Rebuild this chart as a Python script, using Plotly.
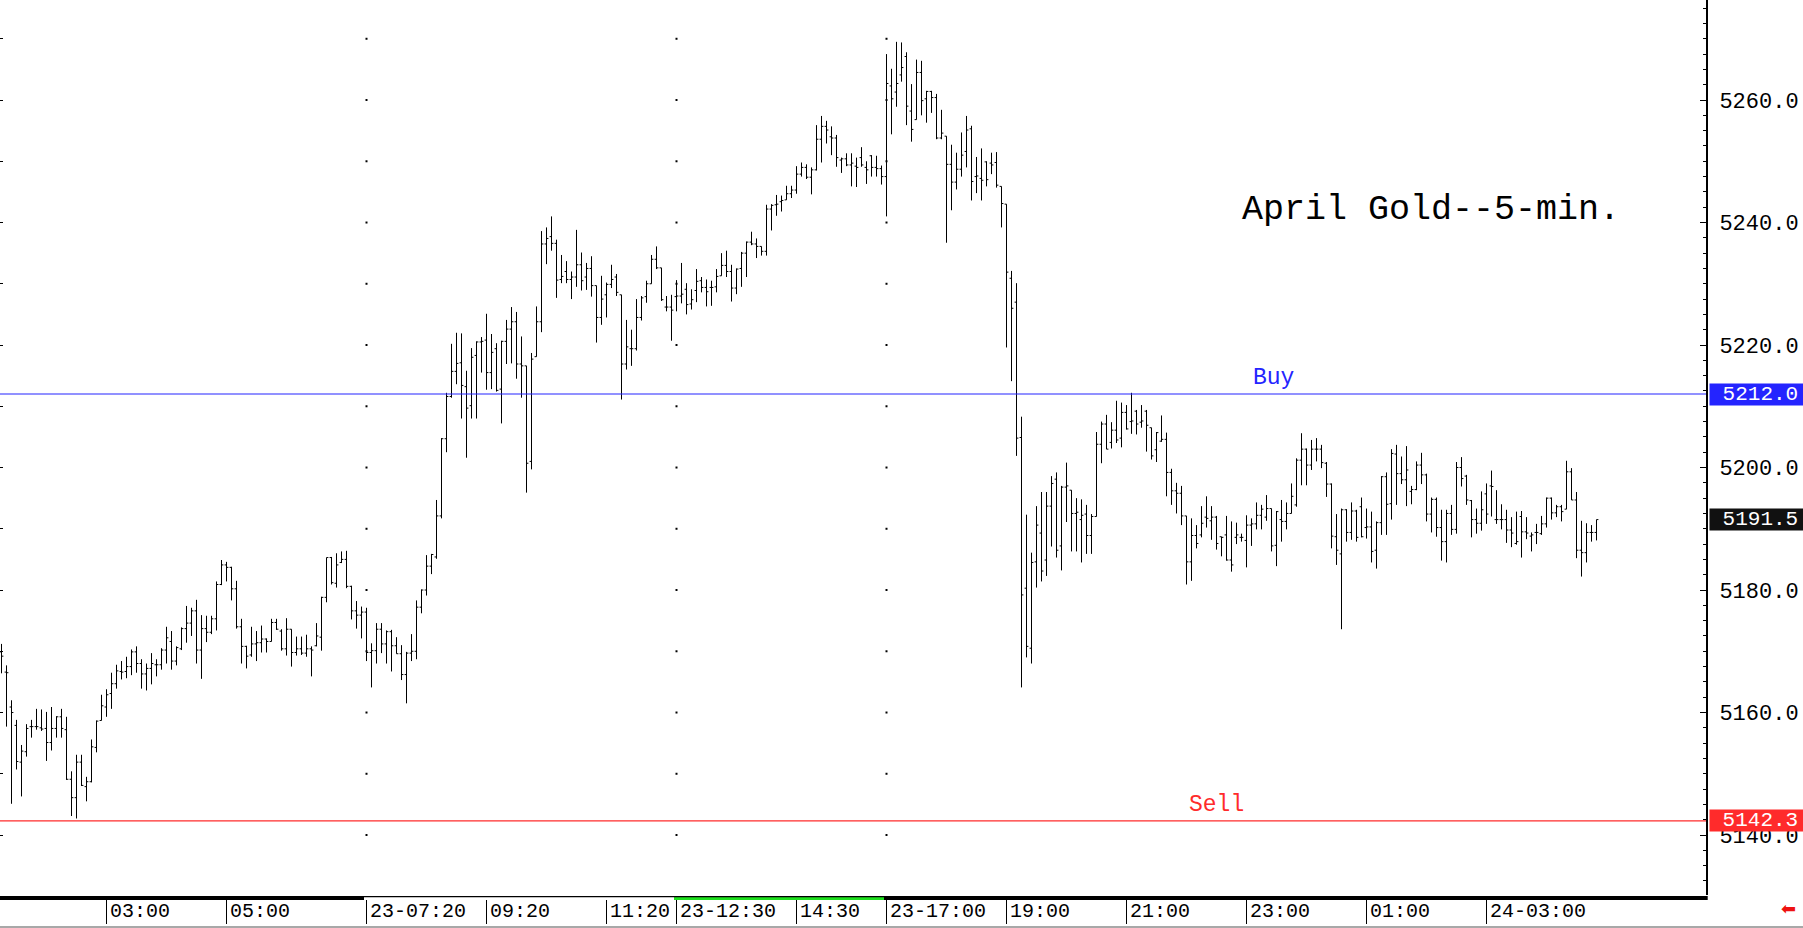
import plotly.graph_objects as go

# April gold, 5-minute bars
opens = [
    5169.9, 5166.6, 5160.9, 5157.9, 5151.9, 5153.6, 5157.7, 5157.7, 5157.5, 5157.4,
    5155.1, 5157.4, 5159.3, 5157.2, 5149.1, 5146.1, 5151.9, 5147.9, 5148.7, 5154.3,
    5158.7, 5160.9, 5163.1, 5164.7, 5166.7, 5166.7, 5167.5, 5169.9, 5168.0, 5166.3,
    5167.2, 5167.8, 5167.8, 5170.2, 5171.6, 5168.4, 5170.4, 5173.7, 5174.6, 5176.6,
    5170.2, 5173.7, 5173.1, 5175.3, 5180.9, 5184.1, 5183.7, 5180.2, 5174.0, 5170.8,
    5169.4, 5171.2, 5171.4, 5172.0, 5171.6, 5174.7, 5173.3, 5170.4, 5173.6, 5169.8,
    5170.4, 5169.7, 5170.4, 5170.9, 5172.3, 5178.8, 5185.3, 5181.1, 5184.5, 5185.0,
    5180.6, 5176.6, 5175.9, 5176.4, 5169.8, 5170.1, 5173.6, 5171.2, 5173.2, 5170.9,
    5169.6, 5166.2, 5169.7, 5170.0, 5177.2, 5180.0, 5183.9, 5185.4, 5192.1, 5204.7,
    5211.6, 5215.7, 5217.1, 5213.2, 5210.1, 5218.3, 5220.5, 5220.8, 5215.5, 5219.4,
    5212.8, 5220.6, 5222.6, 5223.8, 5216.9, 5216.6, 5201.0, 5218.1, 5223.8, 5236.5,
    5237.7, 5236.6, 5230.7, 5232.0, 5230.7, 5231.1, 5233.1, 5231.1, 5232.5, 5229.7,
    5224.5, 5228.2, 5229.9, 5231.1, 5228.2, 5216.9, 5219.4, 5219.4, 5224.5, 5227.9,
    5230.0, 5234.0, 5232.6, 5226.2, 5226.2, 5227.9, 5228.0, 5229.1, 5226.7, 5228.9,
    5230.5, 5229.4, 5229.4, 5229.5, 5231.3, 5233.0, 5232.0, 5229.3, 5232.5, 5235.0,
    5236.8, 5236.5, 5236.1, 5235.3, 5242.2, 5242.9, 5243.4, 5243.7, 5244.7, 5245.3,
    5247.9, 5249.0, 5247.4, 5248.6, 5253.6, 5255.7, 5254.0, 5253.8, 5250.2, 5250.4,
    5249.4, 5249.2, 5250.6, 5249.0, 5250.9, 5249.0, 5248.8, 5247.5, 5262.3, 5261.3,
    5264.1, 5267.1, 5258.2, 5256.8, 5264.5, 5260.2, 5261.4, 5260.4, 5253.8, 5254.1,
    5249.5, 5246.6, 5248.7, 5251.6, 5255.3, 5247.5, 5247.2, 5249.9, 5249.7, 5249.8,
    5245.9, 5243.0, 5230.9, 5227.0, 5204.9, 5180.3, 5170.5, 5184.6, 5189.3, 5184.9,
    5193.7, 5198.1, 5187.2, 5196.8, 5196.3, 5192.5, 5191.5, 5192.4, 5188.9, 5192.0,
    5203.8, 5207.1, 5204.1, 5206.1, 5204.8, 5209.0, 5207.5, 5209.2, 5207.4, 5209.2,
    5206.5, 5202.9, 5204.3, 5204.6, 5199.2, 5196.2, 5195.8, 5192.1, 5184.6, 5188.9,
    5189.0, 5191.9, 5191.3, 5191.9, 5188.7, 5189.0, 5184.9, 5188.6, 5188.6, 5188.1,
    5190.6, 5190.8, 5192.2, 5191.9, 5193.3, 5187.3, 5191.5, 5191.2, 5192.5, 5193.9,
    5201.2, 5203.0, 5200.4, 5203.0, 5203.0, 5200.7, 5197.3, 5188.7, 5185.9, 5193.1,
    5189.4, 5192.9, 5193.6, 5190.2, 5190.3, 5186.5, 5191.0, 5198.5, 5194.1, 5202.2,
    5199.0, 5198.0, 5196.1, 5196.4, 5200.4, 5198.8, 5192.4, 5194.8, 5190.2, 5187.9,
    5192.5, 5189.9, 5200.0, 5198.6, 5194.6, 5191.5, 5190.9, 5195.7, 5197.0, 5191.5,
    5191.5, 5191.5, 5189.8, 5187.6, 5192.0, 5189.5, 5188.8, 5189.4, 5189.2, 5190.8,
    5195.0, 5192.6, 5193.6, 5193.2, 5199.3, 5194.7, 5186.5, 5186.1, 5189.4, 5189.4,
]
highs = [
    5171.2, 5167.7, 5162.0, 5158.8, 5154.7, 5158.1, 5158.8, 5160.6, 5160.5, 5160.1,
    5160.9, 5159.4, 5160.6, 5159.3, 5150.4, 5153.1, 5153.1, 5149.5, 5155.6, 5158.7,
    5162.9, 5163.8, 5166.5, 5167.8, 5168.4, 5169.1, 5170.3, 5170.8, 5168.7, 5168.0,
    5169.7, 5168.7, 5170.5, 5174.0, 5173.3, 5170.8, 5173.9, 5177.4, 5177.1, 5178.4,
    5175.9, 5175.8, 5175.8, 5181.4, 5184.9, 5184.6, 5183.8, 5181.5, 5175.3, 5170.9,
    5174.0, 5173.3, 5174.2, 5172.1, 5175.3, 5175.3, 5173.6, 5175.4, 5173.6, 5172.4,
    5172.4, 5172.7, 5170.8, 5174.6, 5178.9, 5185.3, 5185.4, 5186.0, 5186.3, 5186.4,
    5180.7, 5178.2, 5177.3, 5177.1, 5171.3, 5174.6, 5174.6, 5173.4, 5173.5, 5172.3,
    5171.0, 5169.9, 5172.8, 5178.3, 5180.1, 5185.7, 5185.9, 5194.7, 5204.8, 5212.2,
    5220.2, 5222.0, 5221.9, 5215.8, 5219.5, 5220.6, 5221.3, 5225.1, 5221.8, 5220.3,
    5220.7, 5224.1, 5226.2, 5225.4, 5221.4, 5216.6, 5218.7, 5226.3, 5238.6, 5239.2,
    5241.0, 5237.2, 5234.7, 5233.7, 5232.0, 5238.8, 5235.1, 5233.4, 5234.5, 5229.7,
    5231.3, 5230.2, 5233.1, 5231.6, 5228.2, 5224.1, 5222.5, 5227.5, 5228.0, 5230.5,
    5234.7, 5236.1, 5232.6, 5228.0, 5228.2, 5230.6, 5233.4, 5230.1, 5229.1, 5232.4,
    5231.1, 5230.7, 5230.5, 5232.4, 5235.0, 5235.4, 5233.1, 5232.5, 5235.2, 5236.9,
    5238.5, 5237.4, 5236.1, 5242.9, 5243.0, 5244.5, 5244.4, 5246.0, 5246.0, 5249.2,
    5249.8, 5249.5, 5249.0, 5255.9, 5257.4, 5256.6, 5255.7, 5254.3, 5250.6, 5251.3,
    5251.3, 5250.6, 5252.3, 5250.0, 5251.0, 5250.9, 5249.3, 5267.5, 5265.1, 5269.5,
    5269.4, 5267.8, 5262.6, 5266.6, 5266.4, 5261.5, 5261.5, 5261.0, 5258.4, 5254.1,
    5252.7, 5251.4, 5254.7, 5257.4, 5255.8, 5250.7, 5252.1, 5250.0, 5251.4, 5251.5,
    5245.9, 5243.0, 5232.1, 5230.1, 5208.3, 5192.3, 5186.1, 5193.7, 5196.0, 5196.0,
    5198.6, 5199.2, 5197.0, 5200.8, 5196.3, 5195.0, 5194.8, 5193.9, 5192.4, 5205.8,
    5207.5, 5208.6, 5207.4, 5210.9, 5210.6, 5210.2, 5212.2, 5209.4, 5210.2, 5209.4,
    5206.5, 5205.8, 5208.5, 5205.7, 5199.8, 5197.5, 5197.0, 5192.1, 5191.7, 5190.6,
    5193.7, 5195.3, 5193.7, 5192.1, 5188.7, 5192.1, 5191.2, 5191.0, 5189.2, 5192.2,
    5191.7, 5194.3, 5193.9, 5195.5, 5193.3, 5192.9, 5194.7, 5194.3, 5197.4, 5201.5,
    5205.6, 5203.1, 5204.5, 5204.8, 5203.7, 5200.9, 5197.4, 5192.4, 5193.3, 5193.2,
    5194.3, 5193.1, 5195.1, 5193.3, 5192.8, 5191.2, 5198.6, 5199.2, 5203.0, 5203.7,
    5201.8, 5203.5, 5197.0, 5201.0, 5202.4, 5199.0, 5195.1, 5195.1, 5193.1, 5193.1,
    5193.9, 5200.9, 5201.7, 5198.8, 5194.7, 5193.3, 5196.1, 5197.4, 5199.5, 5196.3,
    5194.0, 5193.1, 5191.9, 5192.8, 5192.9, 5191.9, 5189.4, 5190.8, 5192.1, 5195.1,
    5195.1, 5193.9, 5193.9, 5201.1, 5199.9, 5196.0, 5191.3, 5190.9, 5190.6, 5191.5,
]
lows = [
    5166.4, 5157.7, 5145.1, 5150.7, 5146.3, 5152.8, 5155.9, 5157.2, 5157.0, 5152.1,
    5153.8, 5155.9, 5155.9, 5149.0, 5143.1, 5142.7, 5148.0, 5145.5, 5148.6, 5153.5,
    5158.7, 5159.3, 5160.6, 5163.9, 5165.4, 5165.6, 5166.1, 5166.5, 5163.9, 5163.6,
    5164.6, 5165.9, 5167.0, 5168.0, 5167.0, 5167.7, 5170.2, 5171.4, 5172.5, 5168.0,
    5165.5, 5171.5, 5172.8, 5173.4, 5180.8, 5181.4, 5178.3, 5173.7, 5168.0, 5167.2,
    5169.1, 5168.4, 5169.8, 5169.8, 5171.6, 5173.5, 5170.1, 5169.3, 5167.5, 5169.3,
    5169.4, 5169.1, 5165.9, 5170.8, 5170.1, 5178.0, 5180.9, 5180.4, 5184.4, 5180.3,
    5175.2, 5173.7, 5172.1, 5168.4, 5164.1, 5168.0, 5169.7, 5168.0, 5166.7, 5169.6,
    5165.3, 5161.5, 5168.4, 5168.7, 5176.2, 5179.1, 5182.6, 5185.1, 5191.7, 5202.5,
    5211.4, 5213.6, 5208.0, 5201.6, 5208.0, 5208.0, 5215.5, 5212.7, 5212.8, 5212.4,
    5207.2, 5216.9, 5217.0, 5214.5, 5211.4, 5195.9, 5199.7, 5218.1, 5222.1, 5233.2,
    5235.4, 5227.7, 5230.1, 5230.1, 5227.5, 5229.5, 5228.9, 5229.0, 5227.9, 5220.4,
    5223.3, 5224.5, 5229.3, 5228.0, 5211.1, 5216.0, 5216.6, 5219.1, 5224.0, 5226.9,
    5230.0, 5232.4, 5227.2, 5225.5, 5220.7, 5225.5, 5226.8, 5225.0, 5225.8, 5227.0,
    5228.6, 5226.3, 5226.4, 5228.6, 5231.3, 5231.1, 5227.1, 5228.3, 5229.5, 5231.1,
    5236.3, 5234.2, 5234.6, 5234.6, 5238.7, 5241.1, 5241.8, 5243.7, 5244.0, 5244.7,
    5247.5, 5247.1, 5244.6, 5248.5, 5249.8, 5252.9, 5251.0, 5249.1, 5248.1, 5249.2,
    5245.9, 5245.8, 5249.1, 5246.3, 5247.5, 5247.5, 5246.2, 5241.0, 5254.4, 5258.9,
    5263.0, 5255.9, 5253.2, 5256.8, 5257.5, 5256.3, 5257.9, 5253.6, 5253.6, 5236.7,
    5242.0, 5245.4, 5247.5, 5249.0, 5243.6, 5244.8, 5243.6, 5245.9, 5247.9, 5245.7,
    5239.2, 5219.6, 5214.1, 5201.9, 5164.1, 5169.0, 5168.0, 5180.4, 5181.4, 5182.3,
    5187.1, 5185.3, 5183.2, 5191.1, 5186.3, 5186.3, 5184.5, 5185.9, 5185.9, 5192.0,
    5200.7, 5203.0, 5203.1, 5204.0, 5203.3, 5206.2, 5205.5, 5205.4, 5206.5, 5202.6,
    5201.3, 5200.9, 5204.2, 5195.3, 5193.9, 5192.5, 5190.6, 5180.9, 5181.5, 5186.8,
    5188.6, 5190.2, 5188.2, 5186.6, 5185.5, 5184.8, 5183.0, 5187.5, 5187.9, 5183.7,
    5187.2, 5189.9, 5189.9, 5191.3, 5186.3, 5183.9, 5187.9, 5189.9, 5192.5, 5193.6,
    5197.1, 5197.1, 5199.6, 5201.0, 5199.9, 5195.2, 5186.8, 5184.1, 5173.6, 5187.9,
    5188.2, 5187.9, 5188.6, 5188.4, 5184.5, 5183.5, 5189.0, 5189.0, 5191.5, 5193.9,
    5197.3, 5193.7, 5194.0, 5196.3, 5197.3, 5191.2, 5189.4, 5188.7, 5184.8, 5184.5,
    5189.0, 5189.2, 5196.9, 5193.9, 5188.6, 5189.2, 5189.7, 5190.8, 5192.0, 5190.8,
    5189.9, 5187.7, 5187.0, 5187.4, 5185.3, 5188.3, 5186.3, 5187.5, 5189.0, 5190.2,
    5191.5, 5191.9, 5191.2, 5193.2, 5194.7, 5185.2, 5182.2, 5184.5, 5187.9, 5188.1,
]
closes = [
    5169.2, 5166.5, 5160.0, 5152.0, 5153.7, 5157.4, 5157.7, 5157.7, 5157.3, 5155.1,
    5157.4, 5159.3, 5157.4, 5149.1, 5146.1, 5151.9, 5148.1, 5148.7, 5154.4, 5158.6,
    5161.1, 5162.9, 5164.7, 5166.8, 5166.6, 5167.5, 5169.9, 5168.0, 5166.3, 5167.2,
    5168.0, 5167.8, 5170.2, 5172.2, 5168.4, 5170.6, 5173.7, 5174.6, 5176.6, 5170.2,
    5173.7, 5173.1, 5175.3, 5180.9, 5184.1, 5183.7, 5180.2, 5174.0, 5170.8, 5169.2,
    5171.2, 5171.4, 5172.0, 5171.6, 5174.7, 5173.6, 5170.4, 5173.6, 5169.8, 5170.4,
    5169.7, 5170.4, 5170.2, 5172.5, 5178.8, 5185.3, 5181.2, 5184.1, 5185.0, 5180.6,
    5176.6, 5175.9, 5176.4, 5169.8, 5170.1, 5173.6, 5171.2, 5173.2, 5170.9, 5169.6,
    5166.2, 5169.7, 5170.0, 5177.2, 5180.0, 5183.9, 5185.8, 5192.1, 5204.7, 5211.6,
    5215.7, 5217.0, 5213.4, 5209.7, 5218.0, 5220.5, 5220.6, 5215.5, 5218.8, 5212.6,
    5220.6, 5222.6, 5223.8, 5216.9, 5216.6, 5200.7, 5217.7, 5223.8, 5236.5, 5237.4,
    5236.6, 5230.6, 5231.2, 5230.7, 5231.1, 5233.1, 5230.5, 5232.5, 5229.7, 5224.5,
    5227.5, 5229.9, 5230.7, 5228.6, 5216.9, 5219.7, 5219.4, 5224.5, 5227.7, 5230.0,
    5234.0, 5232.6, 5227.4, 5226.2, 5225.7, 5228.0, 5228.3, 5226.6, 5227.4, 5230.4,
    5229.4, 5228.7, 5229.4, 5231.2, 5233.0, 5232.0, 5229.3, 5232.4, 5235.0, 5236.8,
    5236.5, 5236.1, 5235.3, 5242.2, 5242.8, 5243.0, 5243.6, 5244.7, 5245.3, 5247.9,
    5249.0, 5247.4, 5248.6, 5253.6, 5255.7, 5255.1, 5253.8, 5250.6, 5250.4, 5249.4,
    5249.7, 5249.0, 5249.4, 5248.6, 5249.0, 5248.8, 5247.5, 5262.7, 5260.2, 5262.7,
    5265.3, 5259.0, 5255.2, 5264.5, 5259.9, 5261.4, 5260.4, 5253.8, 5254.6, 5249.5,
    5246.6, 5248.7, 5251.0, 5255.1, 5246.7, 5247.6, 5246.9, 5247.0, 5249.4, 5246.1,
    5243.1, 5231.9, 5226.0, 5204.8, 5179.2, 5170.8, 5184.5, 5190.6, 5183.1, 5193.7,
    5197.4, 5186.5, 5196.8, 5197.0, 5192.5, 5192.7, 5192.2, 5188.9, 5192.0, 5203.8,
    5207.1, 5203.0, 5206.1, 5204.5, 5209.0, 5206.3, 5207.6, 5207.1, 5207.6, 5206.9,
    5201.9, 5205.7, 5204.6, 5199.2, 5196.2, 5195.8, 5192.1, 5184.6, 5188.9, 5187.6,
    5190.9, 5191.7, 5191.9, 5187.6, 5188.6, 5184.9, 5184.1, 5189.0, 5188.6, 5190.6,
    5190.8, 5192.2, 5193.2, 5193.3, 5187.2, 5192.8, 5191.2, 5192.5, 5195.3, 5201.2,
    5203.0, 5200.4, 5203.0, 5203.0, 5200.8, 5197.3, 5188.8, 5186.5, 5193.1, 5189.4,
    5192.9, 5188.6, 5188.7, 5190.3, 5186.3, 5191.0, 5198.5, 5194.0, 5202.3, 5199.0,
    5198.0, 5199.6, 5196.4, 5200.4, 5198.8, 5192.4, 5194.8, 5190.2, 5187.9, 5192.5,
    5189.9, 5200.0, 5198.2, 5194.7, 5191.5, 5190.9, 5193.1, 5192.4, 5196.9, 5191.5,
    5191.5, 5189.8, 5189.3, 5187.9, 5189.5, 5189.3, 5189.0, 5189.4, 5190.8, 5195.0,
    5192.6, 5193.6, 5192.8, 5199.3, 5194.7, 5186.5, 5186.1, 5189.4, 5189.4, 5191.5,
]

# time axis: bar index of each label
tick_idx = [21, 45, 73, 97, 121, 135, 159, 177, 201, 225, 249, 273, 297]
tick_labels = ["03:00", "05:00", "23-07:20", "09:20", "11:20", "23-12:30", "14:30",
               "23-17:00", "19:00", "21:00", "23:00", "01:00", "24-03:00"]
session_idx = [73, 135, 177]          # session starts (dotted grid columns)
session_colors = ["white", "#1ee01e"]  # colour of the band between starts

price_ticks = [5140, 5160, 5180, 5200, 5220, 5240, 5260]
grid_levels = list(range(5140, 5271, 10))

BUY_LEVEL = 5212.0
SELL_LEVEL = 5142.3
LAST_PRICE = closes[-1]

W, H = 1803, 928
PLOT_W, PLOT_H = 1706, 895
BAR_PX = 5.0
X0_PX = 1.5
PX_PER_USD = 6.125
Y_TOP = 5276.33

MONO = "Liberation Mono, DejaVu Sans Mono, monospace"
BLUE = "#2424ff"
RED = "#ff2b2b"
NBSP = "\u00a0"

x = list(range(len(opens)))
x_range = [-X0_PX / BAR_PX, (PLOT_W - X0_PX) / BAR_PX]
y_range = [Y_TOP - PLOT_H / PX_PER_USD, Y_TOP]

fig = go.Figure()

fig.add_trace(go.Ohlc(
    x=x, open=opens, high=highs, low=lows, close=closes,
    increasing=dict(line=dict(color="black", width=1)),
    decreasing=dict(line=dict(color="black", width=1)),
    tickwidth=0.38, hoverinfo="skip", showlegend=False,
))

# dotted grid at session columns
gx, gy = [], []
for s in session_idx:
    for lv in grid_levels:
        gx.append(s)
        gy.append(lv)
fig.add_trace(go.Scatter(
    x=gx, y=gy, mode="markers", hoverinfo="skip", showlegend=False,
    marker=dict(symbol="square", size=2, color="black", line=dict(width=0)),
))

# empty trace to carry the left tick axis
fig.add_trace(go.Scatter(x=[], y=[], yaxis="y2", showlegend=False))

py = lambda px: -px / PLOT_H  # pixels below the plot area, in paper units

shapes = [
    dict(type="line", xref="paper", yref="y", x0=0, x1=1, y0=BUY_LEVEL, y1=BUY_LEVEL,
         line=dict(color=BLUE, width=1.2)),
    dict(type="line", xref="paper", yref="y", x0=0, x1=1, y0=SELL_LEVEL, y1=SELL_LEVEL,
         line=dict(color=RED, width=1.2)),
    # bottom band
    dict(type="rect", xref="paper", yref="paper", x0=0, x1=1.001, y0=py(1), y1=py(5),
         fillcolor="black", line=dict(width=0)),
    dict(type="line", xref="paper", yref="paper", x0=0, x1=W / PLOT_W, y0=py(32), y1=py(32),
         line=dict(color="#a8a8a8", width=2)),
]
for i, col in enumerate(session_colors):
    shapes.append(dict(type="rect", xref="x", yref="paper",
                       x0=session_idx[i] - 0.5, x1=session_idx[i + 1] - 0.5,
                       y0=py(2.2), y1=py(5), fillcolor=col, line=dict(width=0)))
for t in tick_idx:
    shapes.append(dict(type="line", xref="x", yref="paper", x0=t, x1=t,
                       y0=py(5), y1=py(29), line=dict(color="black", width=1)))

annotations = []
for t, lab in zip(tick_idx, tick_labels):
    annotations.append(dict(x=t, y=py(16.5), xref="x", yref="paper", text=lab,
                            showarrow=False, xanchor="left", yanchor="middle", xshift=1,
                            font=dict(family=MONO, size=20, color="black")))

annotations += [
    dict(x=1240 / PLOT_W, y=Y_TOP - 210 / PX_PER_USD, xref="paper", yref="y",
         text="April Gold--5-min.", showarrow=False, xanchor="left", yanchor="middle",
         font=dict(family=MONO, size=35, color="black")),
    dict(x=1251 / PLOT_W, y=BUY_LEVEL, xref="paper", yref="y", text="Buy",
         showarrow=False, xanchor="left", yanchor="bottom", yshift=1,
         font=dict(family=MONO, size=23, color=BLUE)),
    dict(x=1187 / PLOT_W, y=SELL_LEVEL, xref="paper", yref="y", text="Sell",
         showarrow=False, xanchor="left", yanchor="bottom", yshift=1,
         font=dict(family=MONO, size=23, color=RED)),
    dict(x=1779 / PLOT_W, y=py(13), xref="paper", yref="paper", text="\u2b05",
         showarrow=False, xanchor="left", yanchor="middle",
         font=dict(family="DejaVu Sans", size=18, color="#ee1111")),
]
for level, bg in [(BUY_LEVEL, BLUE), (LAST_PRICE, "#111111"), (SELL_LEVEL, RED)]:
    annotations.append(dict(x=1, y=level, xref="paper", yref="y",
                            text=NBSP + f"{level:.1f}",
                            showarrow=False, xanchor="left", yanchor="middle", xshift=3,
                            width=94, height=21, align="left", borderpad=0, bgcolor=bg,
                            font=dict(family=MONO, size=21, color="white")))

fig.update_layout(
    width=W, height=H,
    margin=dict(l=0, r=W - PLOT_W, t=0, b=H - PLOT_H),
    paper_bgcolor="white", plot_bgcolor="white",
    showlegend=False,
    shapes=shapes, annotations=annotations,
    xaxis=dict(range=x_range, showticklabels=False, showgrid=False, zeroline=False,
               showline=False, ticks="", rangeslider=dict(visible=False), fixedrange=True),
    yaxis=dict(range=y_range, side="right", showgrid=False, zeroline=False,
               showline=True, linecolor="black", linewidth=2, mirror=False,
               ticks="inside", ticklen=6, tickcolor="black", tickwidth=1,
               tickvals=price_ticks, ticktext=[f"{v:.1f}" for v in price_ticks],
               ticklabelstandoff=7,
               minor=dict(ticks="inside", ticklen=3, dtick=2.5, tick0=5140,
                          tickcolor="black", showgrid=False),
               tickfont=dict(family=MONO, size=22, color="black")),
    yaxis2=dict(range=y_range, overlaying="y", side="left", showgrid=False,
                zeroline=False, showline=False, showticklabels=False,
                ticks="inside", ticklen=3, tickcolor="black", dtick=10, tick0=5140),
)

fig.write_html("out.html", config={"displayModeBar": False},
               post_script="document.body.style.margin='0';")
